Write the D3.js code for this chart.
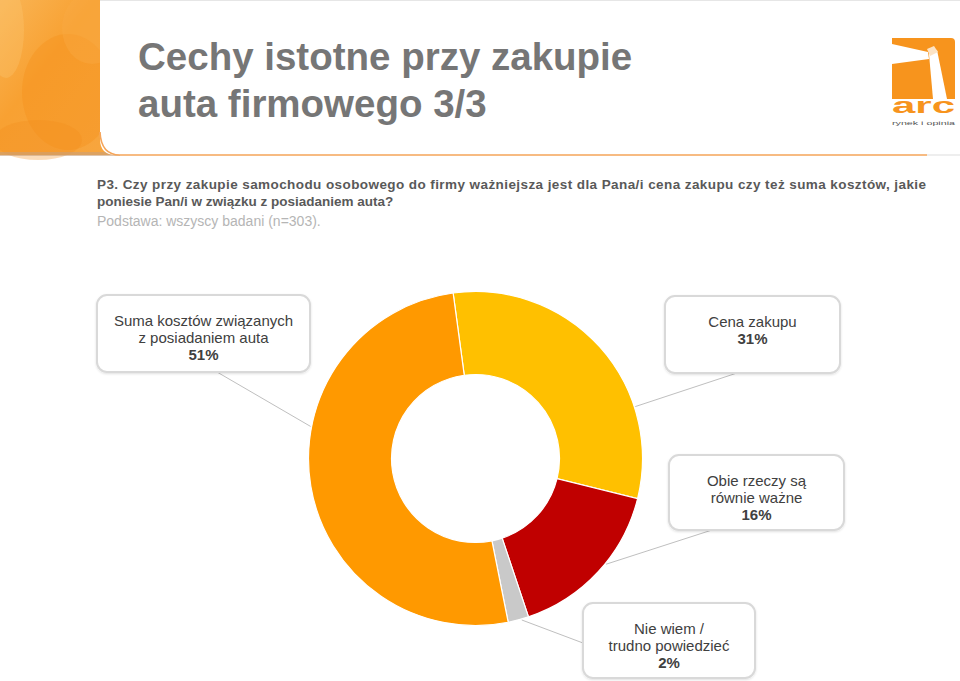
<!DOCTYPE html>
<html>
<head>
<meta charset="utf-8">
<script src="https://cdn.jsdelivr.net/npm/d3@7"></script>
<style>
  html, body { margin: 0; padding: 0; background: #fff; }
  svg { display: block; font-family: "Liberation Sans", Arial, sans-serif; }
</style>
</head>
<body>
<svg id="chart" width="960" height="681"></svg>
<script>
// Chart data
var categories = ["Cena zakupu", "Obie rzeczy są równie ważne", "Nie wiem / trudno powiedzieć", "Suma kosztów związanych z posiadaniem auta"];
var shares = [31, 16, 2, 51];
var sliceColors = ["#ffc000", "#c00000", "#c9c9c9", "#ff9900"];
// label text lines (the percent is added as a bold last line)
var labelLines = [
  ["Cena zakupu"],
  ["Obie rzeczy są", "równie ważne"],
  ["Nie wiem /", "trudno powiedzieć"],
  ["Suma kosztów związanych", "z posiadaniem auta"]
];

var titleLines = ["Cechy istotne przy zakupie", "auta firmowego 3/3"];
var questionLines = [
  "P3. Czy przy zakupie samochodu osobowego do firmy ważniejsza jest dla Pana/i cena zakupu czy też suma kosztów, jakie",
  "poniesie Pan/i w związku z posiadaniem auta?"
];
var baseText = "Podstawa: wszyscy badani (n=303).";

var svg = d3.select("#chart");

// ------------------------------------------------------------------
//    Header
// ------------------------------------------------------------------
var defs = svg.append("defs");
var grad = defs.append("linearGradient")
    .attr("id", "deco")
    .attr("x1", "0").attr("y1", "0").attr("x2", "1").attr("y2", "1");
grad.append("stop").attr("offset", "0%").attr("stop-color", "#f9b556");
grad.append("stop").attr("offset", "40%").attr("stop-color", "#f8a132");
grad.append("stop").attr("offset", "100%").attr("stop-color", "#f7a640");

var shadow = defs.append("filter").attr("id", "soft")
    .attr("x", "-10%").attr("y", "-10%").attr("width", "120%").attr("height", "130%");
shadow.append("feDropShadow")
    .attr("dx", 0).attr("dy", 1).attr("stdDeviation", 1.2)
    .attr("flood-color", "#000").attr("flood-opacity", 0.12);

// orange decoration on the left
svg.append("rect")
    .attr("x", 0).attr("y", 0).attr("width", 120).attr("height", 155)
    .attr("fill", "url(#deco)");
var blobs = [
  {cx: 68, cy: 92, rx: 46, ry: 58, c: "#f6921c", o: 0.4},
  {cx: 6, cy: 30, rx: 18, ry: 48, c: "#fbc978", o: 0.3},
  {cx: 92, cy: 28, rx: 30, ry: 36, c: "#f9ad48", o: 0.35},
  {cx: 38, cy: 140, rx: 44, ry: 20, c: "#f38a1a", o: 0.3}
];
svg.selectAll("ellipse.blob").data(blobs).enter()
  .append("ellipse")
    .attr("class", "blob")
    .attr("cx", function(d) { return d.cx; })
    .attr("cy", function(d) { return d.cy; })
    .attr("rx", function(d) { return d.rx; })
    .attr("ry", function(d) { return d.ry; })
    .attr("fill", function(d) { return d.c; })
    .attr("opacity", function(d) { return d.o; });
svg.append("rect")
    .attr("x", 0).attr("y", 152).attr("width", 120).attr("height", 4)
    .attr("fill", "#c9a07a").attr("opacity", 0.6);

// white panel with rounded bottom-left corner and orange underline
svg.append("path")
    .attr("d", "M100,0 H960 V155 H116 Q100,155 100,139 Z")
    .attr("fill", "#fff");
svg.append("line")
    .attr("x1", 100).attr("y1", 0.5).attr("x2", 960).attr("y2", 0.5)
    .attr("stroke", "#e6e6e6");
svg.append("path")
    .attr("d", "M100,132 Q101,155 120,155 H927")
    .attr("fill", "none")
    .attr("stroke", "#f5a55a").attr("stroke-width", 1.6);
svg.append("line")
    .attr("x1", 927).attr("y1", 155).attr("x2", 960).attr("y2", 155)
    .attr("stroke", "#e8e8e8").attr("stroke-width", 1.5);

// title
svg.selectAll("text.title").data(titleLines).enter()
  .append("text")
    .attr("class", "title")
    .attr("x", 138)
    .attr("y", function(d, i) { return 70 + i * 47; })
    .style("font-size", "38.5px")
    .style("font-weight", "bold")
    .style("fill", "#767676")
    .text(function(d) { return d; });

// logo
var logo = svg.append("g").attr("transform", "translate(892,38)");
logo.append("path")
    .attr("d", "M0,0 H59 Q63,0 63,4 V61 H0 Z")
    .attr("fill", "#f7941d");
logo.append("path")
    .attr("d", "M0,6 L36,14 L37,21 L0,26 Z")
    .attr("fill", "#fff");
logo.append("path")
    .attr("d", "M37,16 L45,12 L55,61 L41,61 Z")
    .attr("fill", "#fff");
logo.append("path")
    .attr("d", "M35,11 L42,8 L46,14 L38,18 Z")
    .attr("fill", "#fde3c4");
logo.append("text")
    .attr("x", 0).attr("y", 75)
    .attr("textLength", 63).attr("lengthAdjust", "spacingAndGlyphs")
    .style("font-size", "22px")
    .style("font-weight", "bold")
    .style("fill", "#f7941d")
    .text("arc");
logo.append("text")
    .attr("x", 0).attr("y", 87)
    .attr("textLength", 63).attr("lengthAdjust", "spacingAndGlyphs")
    .style("font-size", "6px")
    .style("fill", "#555")
    .text("rynek i opinia");

// question + base
svg.selectAll("text.question").data(questionLines).enter()
  .append("text")
    .attr("class", "question")
    .attr("x", 97)
    .attr("y", function(d, i) { return 189 + i * 17; })
    .attr("textLength", function(d, i) { return i == 0 ? 829 : null; })
    .attr("lengthAdjust", "spacing")
    .style("font-size", "13.5px")
    .style("font-weight", "bold")
    .style("fill", "#595959")
    .text(function(d) { return d; });
svg.append("text")
    .attr("x", 97).attr("y", 226)
    .style("font-size", "14px")
    .style("fill", "#b5b5b5")
    .text(baseText);

// ------------------------------------------------------------------
//    Donut
// ------------------------------------------------------------------
var cx = 475.5, cy = 458.5, outerR = 167, innerR = 84;
var startAngle = -7.7 * Math.PI / 180;

var pie = d3.pie()
    .sort(null)
    .value(function(d) { return d; })
    .startAngle(startAngle)
    .endAngle(startAngle + 2 * Math.PI);
var arc = d3.arc().innerRadius(innerR).outerRadius(outerR);
var arcs = pie(shares);

var donut = svg.append("g").attr("transform", "translate(" + cx + "," + cy + ")");
donut.selectAll("path.slice").data(arcs).enter()
  .append("path")
    .attr("class", "slice")
    .attr("d", arc)
    .attr("fill", function(d, i) { return sliceColors[i]; })
    .attr("stroke", "#fff")
    .attr("stroke-width", 1.2);

// ------------------------------------------------------------------
//    Callout labels
// ------------------------------------------------------------------
// box placement and where the leader line meets the ring (degrees, clockwise from top)
var labelLayout = [
  {x: 665, y: 296, w: 175, h: 77, ax: 740, ay: 372, angle: 72},
  {x: 669, y: 455, w: 175, h: 75, ax: 712, ay: 530, angle: 129},
  {x: 583, y: 603, w: 172, h: 75, ax: 583, ay: 643, angle: 164},
  {x: 97, y: 295, w: 213, h: 77, ax: 217, ay: 372, angle: 281}
];

var leaderR = outerR + 1;
svg.selectAll("line.leader").data(labelLayout).enter()
  .append("line")
    .attr("class", "leader")
    .attr("x1", function(d) { return d.ax; })
    .attr("y1", function(d) { return d.ay; })
    .attr("x2", function(d) { return cx + leaderR * Math.sin(d.angle * Math.PI / 180); })
    .attr("y2", function(d) { return cy - leaderR * Math.cos(d.angle * Math.PI / 180); })
    .attr("stroke", "#bfbfbf")
    .attr("stroke-width", 1);

var boxes = svg.selectAll("g.callout").data(labelLayout).enter()
  .append("g")
    .attr("class", "callout");
boxes.append("rect")
    .attr("x", function(d) { return d.x; })
    .attr("y", function(d) { return d.y; })
    .attr("width", function(d) { return d.w; })
    .attr("height", function(d) { return d.h; })
    .attr("rx", 10)
    .attr("fill", "#fff")
    .attr("stroke", "#d9d9d9")
    .attr("stroke-width", 2)
    .attr("filter", "url(#soft)");
boxes.each(function(d, i) {
  var lines = labelLines[i].concat([shares[i] + "%"]);
  var g = d3.select(this);
  g.selectAll("text").data(lines).enter()
    .append("text")
      .attr("x", d.x + d.w / 2)
      .attr("y", function(t, j) { return d.y + 31 + j * 17; })
      .attr("text-anchor", "middle")
      .style("font-size", "15px")
      .style("font-weight", function(t, j) { return j == lines.length - 1 ? "bold" : "normal"; })
      .style("fill", "#404040")
      .text(function(t) { return t; });
});
</script>
</body>
</html>
